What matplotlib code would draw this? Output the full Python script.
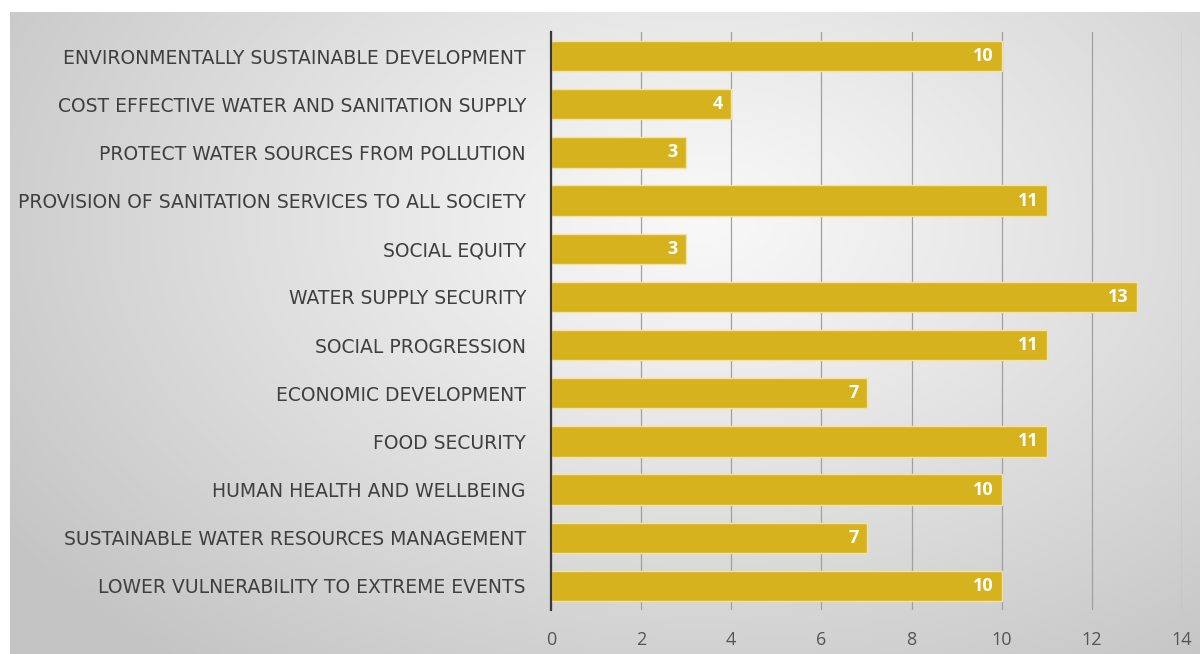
import matplotlib.pyplot as plt
import numpy as np

categories = [
    'ENVIRONMENTALLY SUSTAINABLE DEVELOPMENT',
    'COST EFFECTIVE WATER AND SANITATION SUPPLY',
    'PROTECT WATER SOURCES FROM POLLUTION',
    'PROVISION OF SANITATION SERVICES TO ALL SOCIETY',
    'SOCIAL EQUITY',
    'WATER SUPPLY SECURITY',
    'SOCIAL PROGRESSION',
    'ECONOMIC DEVELOPMENT',
    'FOOD SECURITY',
    'HUMAN HEALTH AND WELLBEING',
    'SUSTAINABLE WATER RESOURCES MANAGEMENT',
    'LOWER VULNERABILITY TO EXTREME EVENTS',
]
values = [10, 4, 3, 11, 3, 13, 11, 7, 11, 10, 7, 10]
xticks = [0, 2, 4, 6, 8, 10, 12, 14]

bar_color = '#d6b21e'
text_color = '#3f3f3f'

fig = plt.figure(figsize=(12, 6.54), dpi=100)

# gradient background panel
bg = fig.add_axes([10 / 1200, 0, 1 - 10 / 1200, 1 - 12 / 654], zorder=-10)
ny, nx = 300, 600
yy, xx = np.mgrid[0:ny, 0:nx]
cx, cy = 0.58 * nx, 0.32 * ny
d = np.sqrt(((xx - cx) / nx) ** 2 + ((yy - cy) / ny * 0.8) ** 2)
shade = 0.975 - 0.30 * d ** 1.1
shade = np.clip(shade, 0.77, 1.0)
bg.imshow(np.dstack([shade] * 3), aspect='auto', extent=[0, 1, 0, 1], origin='upper')
bg.set_axis_off()

ax = fig.add_axes([551 / 1200, 1 - 610 / 654, (1182 - 551) / 1200, (610 - 32) / 654])
ax.patch.set_alpha(0)

ypos = np.arange(len(categories))
ax.barh(ypos, values, height=0.63, color=bar_color, edgecolor='#f3e3a0', linewidth=1, zorder=3)
for y, v in zip(ypos, values):
    ax.text(v - 0.18, y, str(v), ha='right', va='center', color='white',
            fontsize=13, fontweight='bold', family='Open Sans', zorder=4)

ax.set_xlim(0, 14)
ax.set_ylim(len(categories) - 0.5, -0.5)
ax.set_xticks(xticks)
ax.set_yticks(ypos)
ax.set_yticklabels(categories, family='DejaVu Sans', fontsize=13.5, color=text_color)
ax.xaxis.grid(True, color='#a0a0a0', linewidth=0.9, zorder=0)
ax.tick_params(axis='x', length=0, pad=15, labelsize=13, labelcolor='#555555')
ax.tick_params(axis='y', length=0, pad=18)
for lab in ax.get_xticklabels():
    lab.set_family('Open Sans')
for s in ['top', 'right', 'bottom']:
    ax.spines[s].set_visible(False)
ax.spines['left'].set_color('#3a3a3a')
ax.spines['left'].set_linewidth(1.6)
ax.spines['left'].set_zorder(5)

fig.savefig('out.png', dpi=100)
